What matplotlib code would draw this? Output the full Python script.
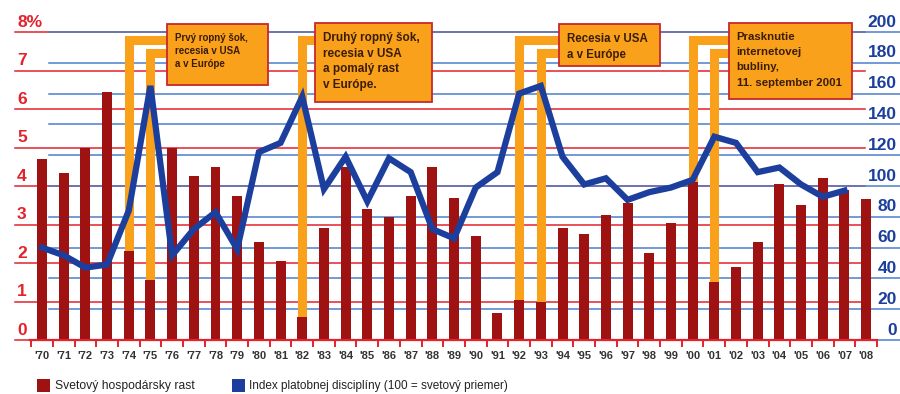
import numpy as np
import matplotlib.pyplot as plt
from matplotlib.patches import Rectangle

years = ["'%02d" % (y % 100) for y in range(1970, 2009)]
growth = [4.7, 4.35, 5.0, 6.45, 2.3, 1.55, 5.0, 4.25, 4.5, 3.75,
          2.55, 2.05, 0.6, 2.9, 4.5, 3.4, 3.2, 3.75, 4.5, 3.7,
          2.7, 0.7, 1.05, 1.0, 2.9, 2.75, 3.25, 3.55, 2.25, 3.05,
          4.1, 1.5, 1.9, 2.55, 4.05, 3.5, 4.2, 3.9, 3.65]
index = [60, 55, 47, 49, 84, 165, 55, 72, 83, 59,
         122, 128, 158, 98, 119, 90, 118, 109, 72, 66,
         99, 109, 160, 165, 119, 101, 105, 91, 96, 99,
         104, 132, 128, 109, 112, 101, 93, 97]

event_texts = ["Prvý ropný šok,\nrecesia v USA\na v Európe",
               "Druhý ropný šok,\nrecesia v USA\na pomalý rast\nv Európe.",
               "Recesia v USA\na v Európe",
               "Prasknutie\ninternetovej\nbubliny,\n11. september 2001"]
event_years = [["'74", "'75"], ["'82"], ["'92", "'93"], ["'00", "'01"]]

pct_ticks = [0, 1, 2, 3, 4, 5, 6, 7, 8]
idx_ticks = [0, 20, 40, 60, 80, 100, 120, 140, 160, 180, 200]

BAR = '#9e1212'
LINE = '#1c3f9e'
RED = '#e3222b'
BLUEG = '#4a80cc'
ORANGE = '#f9a11b'
FONT = ['Liberation Sans Narrow', 'Liberation Sans', 'DejaVu Sans']

plt.rcParams['font.family'] = FONT

W, H = 900, 394
fig = plt.figure(figsize=(9, 3.94), dpi=100)
fig.patch.set_facecolor('white')

# pixel geometry of the plot
x0, dx = 42, 21.7
y0, dy = 340, 38.5
ax = fig.add_axes([30 / W, (H - y0) / H, 847 / W, 335 / H])
ax.set_xlim((30 - x0) / dx, (877 - x0) / dx)
ax.set_ylim(0, 335 / dy)
ax2 = ax.twinx()
ax2.set_ylim(0, 335 / dy * 25)


def px(x):
    return (x - x0) / dx


x = np.arange(len(years))

# gridlines
for v in pct_ticks:
    ax.plot([px(15), px(865)], [v, v], color=RED, lw=1.1, clip_on=False, zorder=1)
for v in idx_ticks:
    ax.plot([px(49), px(900)], [v / 25, v / 25], color=BLUEG, lw=1.1, clip_on=False, zorder=1.1)

# event brackets and boxes
tops = [7.78, 7.45]
boxes = [(167, 268, 24, 85, 7.0, 1.4), (315, 432, 23, 102, 8.5, 1.4),
         (559, 660, 24, 66, 8.3, 1.4), (729, 852, 23, 99, 8.2, 1.65)]
for txt, yrs, (bl, br, bt, bb, fs, ls) in zip(event_texts, event_years, boxes):
    for k, yr in enumerate(yrs):
        i = years.index(yr)
        ax.plot([i, i, px(bl)], [growth[i], tops[k], tops[k]], color=ORANGE, lw=6.5,
                solid_capstyle='butt', solid_joinstyle='miter', zorder=2, clip_on=False)
    ax.add_patch(Rectangle((px(bl), (y0 - bb) / dy), (br - bl) / dx, (bb - bt) / dy,
                           facecolor=ORANGE, edgecolor='#c8282d', lw=1.3, zorder=5, clip_on=False))
    ax.text(px(bl + 8), (y0 - bt - 9) / dy, txt, fontsize=fs, fontweight='bold',
            color='#3b1c05', va='top', ha='left', linespacing=ls, zorder=6)

ax.bar(x, growth, width=0.46, color=BAR, zorder=3)
ax2.plot(x[:len(index)], index, color=LINE, lw=4.5, solid_joinstyle='miter', zorder=4)

# axes styling
for a in (ax, ax2):
    for s in a.spines.values():
        s.set_visible(False)
ax.spines['bottom'].set_visible(True)
ax.spines['bottom'].set_color(RED)
ax.spines['bottom'].set_linewidth(1.6)
ax.spines['bottom'].set_zorder(6)
ax.set_xticks(x)
ax.set_xticklabels(years, fontsize=8, fontweight='bold', color='#333333')
ax.set_xticks(list(x - 0.5) + [x[-1] + 0.5], minor=True)
ax.tick_params(axis='x', which='major', length=0, pad=8)
ax.tick_params(axis='x', which='minor', length=5, width=1.4, color=RED, direction='out')
ax.set_yticks([])
ax2.set_yticks([])

for v in pct_ticks:
    lab = '8%' if v == 8 else str(v)
    ax.text(px(17), v + 0.06, lab, color=RED, fontsize=12.5, fontweight='bold',
            ha='left', va='bottom', clip_on=False)
for v in idx_ticks:
    ax2.text(px(897), v + 1.5, str(v), color=LINE, fontsize=12.5, fontweight='bold',
             ha='right', va='bottom', clip_on=False)

# legend
fig.patches.append(Rectangle((37 / W, 2 / H), 13 / W, 13 / H, facecolor=BAR,
                             transform=fig.transFigure, figure=fig))
fig.text(55 / W, 8 / H, 'Svetový hospodársky rast', fontsize=8.7, color='#222222', va='center')
fig.patches.append(Rectangle((232 / W, 2 / H), 13 / W, 13 / H, facecolor=LINE,
                             transform=fig.transFigure, figure=fig))
fig.text(249 / W, 8 / H, 'Index platobnej disciplíny (100 = svetový priemer)', fontsize=8.5,
         color='#222222', va='center')

fig.savefig('out.png', dpi=100)
